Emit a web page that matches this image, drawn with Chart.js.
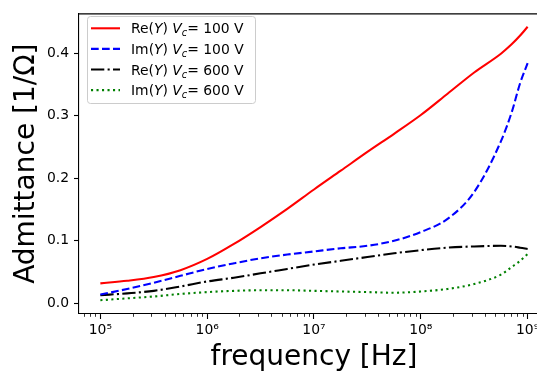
<!DOCTYPE html>
<html>
<head>
<meta charset="utf-8">
<title>Admittance vs frequency</title>
<script src="https://cdn.jsdelivr.net/npm/chart.js@4.4.1/dist/chart.umd.min.js"></script>
<style>
  html, body { margin: 0; padding: 0; background: #fff; overflow: hidden; }
  #wrap { position: relative; width: 560px; height: 371px; }
</style>
</head>
<body>
<div id="wrap"><canvas id="admChart"></canvas></div>
<script>
// sweep frequencies [Hz]
const frequencies = [1e5, 1.78e5, 3.16e5, 5.62e5, 1e6, 1.78e6, 3.16e6, 5.62e6, 1e7,
    1.78e7, 3.16e7, 5.62e7, 1e8, 1.78e8, 3.16e8, 5.62e8, 7.08e8, 8.51e8, 1e9];

// admittance [1/Ohm] for the two control voltages
const reY100 = [0.032, 0.036, 0.042, 0.053, 0.071, 0.095, 0.122, 0.151, 0.182,
    0.212, 0.242, 0.271, 0.301, 0.335, 0.369, 0.399, 0.414, 0.428, 0.442];
const imY100 = [0.014, 0.023, 0.033, 0.044, 0.055, 0.064, 0.072, 0.078, 0.083,
    0.088, 0.092, 0.100, 0.114, 0.135, 0.178, 0.259, 0.305, 0.352, 0.384];
const reY600 = [0.013, 0.016, 0.020, 0.027, 0.035, 0.041, 0.048, 0.055, 0.062,
    0.068, 0.074, 0.080, 0.085, 0.089, 0.091, 0.092, 0.091, 0.089, 0.087];
const imY600 = [0.005, 0.008, 0.011, 0.015, 0.018, 0.020, 0.021, 0.021, 0.020,
    0.019, 0.018, 0.017, 0.019, 0.023, 0.031, 0.046, 0.058, 0.068, 0.079];

const partNames = ['Re', 'Im', 'Re', 'Im'];
const voltages = [100, 100, 600, 600];

const xTickValues = [1e5, 1e6, 1e7, 1e8, 1e9];
const xTickLabels = ['10\u2075', '10\u2076', '10\u2077', '10\u2078', '10\u2079'];
const yTickValues = [0, 0.1, 0.2, 0.3, 0.4];
const yTickLabels = ['0.0', '0.1', '0.2', '0.3', '0.4'];

const FAMILY = '"DejaVu Sans", sans-serif';
const LW = 2.08;

function toPoints(values) {
    return frequencies.map((f, i) => ({ x: f, y: values[i] }));
}

// major decades plus 2..9 minor ticks inside the axis range
function buildLogTicks(min, max) {
    const ticks = xTickValues.map(v => ({ value: v, isMajor: true }));
    for (let e = 4; e <= 9; e++) {
        for (let m = 2; m <= 9; m++) {
            const v = m * Math.pow(10, e);
            if (v >= min && v <= max) ticks.push({ value: v, isMajor: false });
        }
    }
    return ticks.sort((a, b) => a.value - b.value);
}

// legend label with italic Y / V and subscript c
function drawMathLabel(ctx, x, y, part, volt) {
    const size = 13.9;
    const pieces = [
        [part + '(', '', 0, 1],
        ['Y', 'italic ', 0, 1],
        [') ', '', 0, 1],
        ['V', 'italic ', 0, 1],
        ['c', 'italic ', 3, 0.7],
        ['= ' + volt + ' V', '', 0, 1]
    ];
    ctx.fillStyle = '#000';
    ctx.textBaseline = 'alphabetic';
    ctx.textAlign = 'left';
    pieces.forEach(([txt, style, shift, scale]) => {
        ctx.font = style + (size * scale).toFixed(1) + 'px ' + FAMILY;
        ctx.fillText(txt, x, y + shift);
        x += ctx.measureText(txt).width;
    });
}

const framePlugin = {
    id: 'frame',
    afterDraw(chart) {
        const { ctx, chartArea: a } = chart;
        const xs = chart.scales.x;
        ctx.save();
        // top and right spines
        ctx.strokeStyle = '#000';
        ctx.lineWidth = 1.1;
        ctx.beginPath();
        ctx.moveTo(a.left, a.top + 0.5);
        ctx.lineTo(a.right, a.top + 0.5);
        ctx.lineTo(a.right, a.bottom);
        ctx.stroke();

        // minor ticks on the log axis
        ctx.lineWidth = 0.8;
        xs.ticks.forEach(t => {
            if (t.isMajor) return;
            const px = Math.round(xs.getPixelForValue(t.value)) + 0.5;
            ctx.beginPath();
            ctx.moveTo(px, a.bottom);
            ctx.lineTo(px, a.bottom + 2.8);
            ctx.stroke();
        });

        // legend
        ctx.beginPath();
        ctx.roundRect(87.5, 16.5, 168, 87, 3);
        ctx.fillStyle = 'rgba(255,255,255,0.8)';
        ctx.fill();
        ctx.strokeStyle = '#cccccc';
        ctx.lineWidth = 1;
        ctx.stroke();
        chart.data.datasets.forEach((ds, i) => {
            const y = 28.3 + i * 20.6;
            ctx.beginPath();
            ctx.setLineDash(ds.borderDash || []);
            ctx.strokeStyle = ds.borderColor;
            ctx.lineWidth = ds.borderWidth;
            ctx.moveTo(91, y);
            ctx.lineTo(120, y);
            ctx.stroke();
            ctx.setLineDash([]);
            drawMathLabel(ctx, 131, y + 5, partNames[i], voltages[i]);
        });
        ctx.restore();
    }
};

const series = [
    { values: reY100, color: '#ff0000', dash: [] },
    { values: imY100, color: '#0000ff', dash: [7.7, 3.3] },
    { values: reY600, color: '#000000', dash: [13.3, 3.3, 2.1, 3.3] },
    { values: imY600, color: '#008000', dash: [2.1, 3.4] }
];

new Chart(document.getElementById('admChart'), {
    type: 'line',
    data: {
        datasets: series.map((s, i) => ({
            label: partNames[i] + '(Y) Vc= ' + voltages[i] + ' V',
            data: toPoints(s.values),
            borderColor: s.color,
            borderDash: s.dash,
            borderWidth: LW,
            borderCapStyle: 'butt',
            cubicInterpolationMode: 'monotone',
            pointRadius: 0,
            fill: false
        }))
    },
    options: {
        responsive: true,
        maintainAspectRatio: false,
        animation: false,
        layout: { padding: { left: 0, top: 9, right: 11, bottom: 0 } },
        plugins: { legend: { display: false }, tooltip: { enabled: false } },
        scales: {
            x: {
                type: 'logarithmic',
                min: 6.31e4,
                max: 1.585e9,
                afterBuildTicks: scale => { scale.ticks = buildLogTicks(scale.min, scale.max); },
                afterFit: scale => { scale.height = 57; },
                ticks: {
                    autoSkip: false,
                    maxRotation: 0,
                    minRotation: 0,
                    padding: 3,
                    color: '#000',
                    font: { family: FAMILY, size: 13.9 },
                    callback: v => {
                        const i = xTickValues.indexOf(v);
                        return i >= 0 ? xTickLabels[i] : '';
                    }
                },
                grid: {
                    drawOnChartArea: false,
                    drawTicks: true,
                    tickLength: 5,
                    tickWidth: 1.1,
                    tickColor: c => (c.tick && c.tick.isMajor) ? '#000' : 'rgba(0,0,0,0)'
                },
                border: { display: true, color: '#000', width: 1.1 },
                title: {
                    display: true,
                    text: 'frequency [Hz]',
                    color: '#000',
                    font: { family: FAMILY, size: 28, lineHeight: 1 },
                    padding: { top: 0, bottom: -1 }
                }
            },
            y: {
                min: -0.017,
                max: 0.4635,
                afterBuildTicks: scale => { scale.ticks = yTickValues.map(v => ({ value: v })); },
                afterFit: scale => { scale.width = 79; },
                ticks: {
                    padding: 5,
                    color: '#000',
                    font: { family: FAMILY, size: 13.9 },
                    callback: v => yTickLabels[yTickValues.indexOf(v)]
                },
                grid: {
                    drawOnChartArea: false,
                    drawTicks: true,
                    tickLength: 5,
                    tickWidth: 1.1,
                    tickColor: '#000'
                },
                border: { display: true, color: '#000', width: 1.1 },
                title: {
                    display: true,
                    text: 'Admittance [1/Ω]',
                    color: '#000',
                    font: { family: FAMILY, size: 28, lineHeight: 1 },
                    padding: { top: 13, bottom: 0 }
                }
            }
        }
    },
    plugins: [framePlugin]
});
</script>
</body>
</html>
